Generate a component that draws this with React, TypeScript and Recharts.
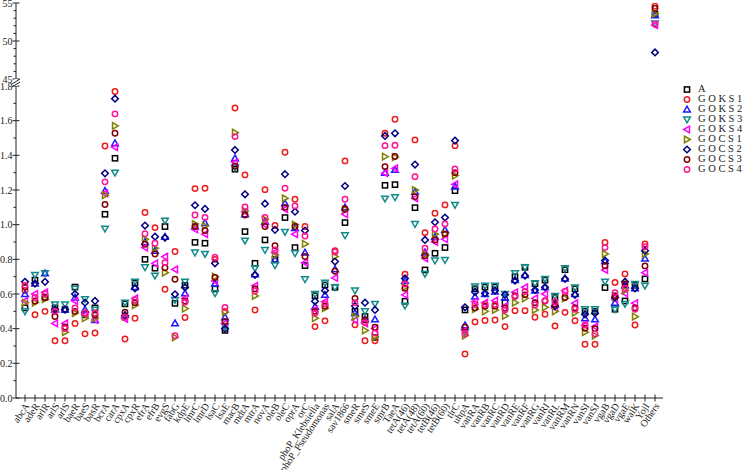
import React from 'react';
import { ScatterChart, Scatter, XAxis, YAxis, Legend } from 'recharts';

const categories = [
  'abcA', 'adeR', 'arlR', 'arlS', 'arlS', 'baeR', 'baeS', 'basR', 'bcrA', 'carA',
  'cpxA', 'cpxR', 'efrA', 'efrB', 'evgS', 'fabG', 'kdpE', 'lmrC', 'lmrD', 'lsaC',
  'lsaE', 'macB', 'mdtA', 'mtrA', 'novA', 'oleB', 'oleC', 'oprA', 'orC', 'phoP_Klebsiella',
  'phoP_Pseudomonas', 'salA', 'sav1866', 'smeR', 'smeS', 'smeE', 'smrB', 'TaeA', 'tetA(46)', 'tetA(48)',
  'tetA(60)', 'tetB(46)', 'tetB(60)', 'tlrC', 'uhpA', 'vanRA', 'vanRB', 'vanRC', 'vanRD', 'vanRE',
  'vanRF', 'vanRG', 'vanRI', 'vanRL', 'vanRM', 'vanRN', 'vanSI', 'vanSJ', 'vgaB', 'vgaD',
  'vgaE', 'walK', 'YojI', 'Others',
];

const valuesA = [
  0.52, 0.68, 0.58, 0.52, 0.51, 0.64, 0.48, 0.52, 1.06, 1.383,
  0.543, 0.662, 0.80, 0.749, 0.989, 0.546, 0.65, 0.898, 0.893, 0.629,
  0.39, 1.32, 0.96, 0.777, 0.912, 0.80, 1.041, 0.868, 0.764, 0.59,
  0.652, 0.639, 1.012, 0.50, 0.47, 0.35, 1.227, 1.231, 0.558, 1.098,
  0.739, 0.835, 0.868, 1.196, 0.508, 0.63, 0.64, 0.64, 0.55, 0.70,
  0.754, 0.66, 0.68, 0.58, 0.74, 0.63, 0.50, 0.50, 0.637, 0.512,
  0.56, 0.65, 0.687, 53.5,
];
const valuesGOKS1 = [
  0.62, 0.48, 0.50, 0.33, 0.33, 0.43, 0.37, 0.375, 1.454, 1.768,
  0.34, 0.46, 1.07, 0.983, 0.627, 0.845, 0.464, 1.208, 1.21, 0.80,
  0.50, 1.673, 1.287, 0.508, 1.202, 0.995, 1.418, 1.147, 0.989, 0.412,
  0.445, 0.85, 1.368, 0.422, 0.33, 0.33, 1.527, 1.608, 0.714, 1.489,
  0.954, 1.066, 1.114, 1.456, 0.254, 0.439, 0.447, 0.45, 0.412, 0.504,
  0.504, 0.466, 0.483, 0.416, 0.494, 0.446, 0.31, 0.31, 0.898, 0.666,
  0.716, 0.421, 0.889, 54.6,
];
const valuesGOKS2 = [
  0.60, 0.66, 0.72, 0.51, 0.51, 0.58, 0.51, 0.45, 1.195, 1.47,
  0.48, 0.64, 0.90, 0.85, 0.93, 0.431, 0.604, 0.99, 1.01, 0.66,
  0.466, 1.383, 1.06, 0.714, 1.018, 0.796, 1.123, 0.98, 0.839, 0.527,
  0.595, 0.743, 1.10, 0.49, 0.454, 0.454, 1.30, 1.316, 0.677, 1.19,
  0.84, 0.93, 0.97, 1.22, 0.42, 0.585, 0.60, 0.614, 0.58, 0.68,
  0.71, 0.62, 0.64, 0.54, 0.69, 0.60, 0.46, 0.454, 0.79, 0.55,
  0.65, 0.633, 0.804, 53.4,
];
const valuesGOKS3 = [
  0.50, 0.71, 0.72, 0.54, 0.54, 0.63, 0.57, 0.51, 0.977, 1.30,
  0.55, 0.671, 0.754, 0.706, 1.023, 0.566, 0.671, 0.839, 0.831, 0.604,
  0.412, 1.329, 0.908, 0.749, 0.854, 0.766, 0.958, 0.835, 0.685, 0.60,
  0.665, 0.639, 0.939, 0.62, 0.50, 0.543, 1.15, 1.158, 0.533, 1.004,
  0.716, 0.793, 0.796, 1.114, 0.38, 0.643, 0.648, 0.648, 0.60, 0.72,
  0.754, 0.662, 0.687, 0.589, 0.748, 0.637, 0.512, 0.512, 0.671, 0.512,
  0.543, 0.658, 0.648, 52.3,
];
const valuesGOKS4 = [
  0.56, 0.60, 0.61, 0.43, 0.43, 0.56, 0.48, 0.45, 1.18, 1.447,
  0.456, 0.575, 0.868, 0.777, 0.816, 0.742, 0.575, 0.973, 0.945, 0.675,
  0.43, 1.36, 1.075, 0.647, 1.00, 0.84, 1.089, 0.945, 0.781, 0.51,
  0.556, 0.693, 1.06, 0.45, 0.43, 0.40, 1.297, 1.325, 0.595, 1.152,
  0.806, 0.90, 0.916, 1.233, 0.39, 0.556, 0.55, 0.562, 0.53, 0.61,
  0.639, 0.575, 0.60, 0.518, 0.62, 0.547, 0.42, 0.412, 0.739, 0.57,
  0.604, 0.547, 0.723, 52.1,
];
const valuesGOCS1 = [
  0.55, 0.55, 0.57, 0.50, 0.38, 0.49, 0.46, 0.46, 1.17, 1.57,
  0.47, 0.535, 0.916, 0.864, 0.723, 0.35, 0.516, 1.004, 0.993, 0.70,
  0.495, 1.531, 1.08, 0.589, 1.03, 0.825, 1.152, 1.00, 0.889, 0.46,
  0.518, 0.816, 1.089, 0.47, 0.39, 0.352, 1.393, 1.39, 0.64, 1.20,
  0.825, 0.945, 0.947, 1.283, 0.36, 0.512, 0.50, 0.508, 0.474, 0.55,
  0.575, 0.508, 0.523, 0.50, 0.575, 0.493, 0.38, 0.36, 0.831, 0.581,
  0.62, 0.469, 0.831, 53.6,
];
const valuesGOCS2 = [
  0.67, 0.66, 0.67, 0.51, 0.51, 0.60, 0.55, 0.56, 1.296, 1.727,
  0.475, 0.633, 0.995, 0.931, 0.925, 0.598, 0.638, 1.112, 1.091, 0.777,
  0.40, 1.431, 1.175, 0.71, 1.121, 0.97, 1.291, 1.075, 0.966, 0.558,
  0.62, 0.787, 1.223, 0.531, 0.55, 0.508, 1.512, 1.527, 0.69, 1.347,
  0.912, 1.014, 1.041, 1.485, 0.523, 0.612, 0.604, 0.62, 0.595, 0.677,
  0.706, 0.623, 0.639, 0.531, 0.687, 0.595, 0.483, 0.489, 0.793, 0.58,
  0.671, 0.633, 0.85, 48.5,
];
const valuesGOCS3 = [
  0.64, 0.56, 0.58, 0.47, 0.41, 0.50, 0.49, 0.48, 1.116, 1.527,
  0.495, 0.55, 0.887, 0.831, 0.752, 0.685, 0.56, 0.989, 0.966, 0.695,
  0.441, 1.339, 1.056, 0.63, 0.989, 0.879, 1.10, 0.989, 0.816, 0.50,
  0.53, 0.731, 1.09, 0.575, 0.45, 0.408, 1.335, 1.393, 0.633, 1.162,
  0.82, 0.912, 0.947, 1.30, 0.408, 0.52, 0.53, 0.53, 0.518, 0.59,
  0.595, 0.55, 0.56, 0.54, 0.58, 0.52, 0.402, 0.40, 0.762, 0.59,
  0.658, 0.52, 0.762, 54.3,
];
const valuesGOCS4 = [
  0.65, 0.58, 0.60, 0.50, 0.40, 0.52, 0.49, 0.49, 1.247, 1.639,
  0.466, 0.566, 0.948, 0.893, 0.781, 0.36, 0.553, 1.056, 1.041, 0.812,
  0.522, 1.508, 1.102, 0.618, 1.041, 0.854, 1.21, 1.108, 0.935, 0.489,
  0.543, 0.843, 1.147, 0.55, 0.435, 0.375, 1.456, 1.458, 0.658, 1.277,
  0.864, 0.975, 1.004, 1.321, 0.37, 0.541, 0.54, 0.54, 0.508, 0.585,
  0.614, 0.537, 0.562, 0.556, 0.614, 0.512, 0.421, 0.37, 0.868, 0.608,
  0.633, 0.512, 0.873, 52.2,
];

const lowerTicks = [0, 0.1, 0.2, 0.3, 0.4, 0.5, 0.6, 0.7, 0.8, 0.9, 1.0, 1.1, 1.2, 1.3, 1.4, 1.5, 1.6, 1.7, 1.8];
const lowerLabels = ['0.0', '', '0.2', '', '0.4', '', '0.6', '', '0.8', '', '1.0', '', '1.2', '', '1.4', '', '1.6', '', '1.8'];
const upperTicks = [45, 46, 47, 48, 49, 50, 51, 52, 53, 54, 55];
const upperLabels = ['45', '', '', '', '', '50', '', '', '', '', '55'];

const SERIES = [
  { name: 'A', values: valuesA, color: '#000000', kind: 'square' },
  { name: 'G O K S 1', values: valuesGOKS1, color: '#ee1c1c', kind: 'circle' },
  { name: 'G O K S 2', values: valuesGOKS2, color: '#1a1aff', kind: 'up' },
  { name: 'G O K S 3', values: valuesGOKS3, color: '#138a8a', kind: 'down' },
  { name: 'G O K S 4', values: valuesGOKS4, color: '#ff00ff', kind: 'left' },
  { name: 'G O C S 1', values: valuesGOCS1, color: '#808000', kind: 'right' },
  { name: 'G O C S 2', values: valuesGOCS2, color: '#000080', kind: 'diamond' },
  { name: 'G O C S 3', values: valuesGOCS3, color: '#800000', kind: 'circle' },
  { name: 'G O C S 4', values: valuesGOCS4, color: '#ff1493', kind: 'circle' },
];

const FONT = '"Liberation Serif", "DejaVu Serif", serif';
const X_DOMAIN: [number, number] = [-0.9, 63.8];
const xTicks = categories.map((_, i) => i);

function Marker({ cx, cy, kind, color }: any) {
  if (cx == null || cy == null || isNaN(cx) || isNaN(cy)) return null;
  const common = { fill: 'none', stroke: color, strokeWidth: 1.5 };
  const r = 3.3;
  switch (kind) {
    case 'square':
      return <rect x={cx - 2.6} y={cy - 2.6} width={5.2} height={5.2} {...common} />;
    case 'circle':
      return <circle cx={cx} cy={cy} r={2.7} {...common} />;
    case 'up':
      return <polygon points={`${cx},${cy - r} ${cx + r},${cy + r * 0.75} ${cx - r},${cy + r * 0.75}`} {...common} />;
    case 'down':
      return <polygon points={`${cx},${cy + r} ${cx + r},${cy - r * 0.75} ${cx - r},${cy - r * 0.75}`} {...common} />;
    case 'left':
      return <polygon points={`${cx - r},${cy} ${cx + r * 0.75},${cy - r} ${cx + r * 0.75},${cy + r}`} {...common} />;
    case 'right':
      return <polygon points={`${cx + r},${cy} ${cx - r * 0.75},${cy - r} ${cx - r * 0.75},${cy + r}`} {...common} />;
    case 'diamond':
      return <polygon points={`${cx},${cy - r} ${cx + r},${cy} ${cx},${cy + r} ${cx - r},${cy}`} {...common} />;
    default:
      return null;
  }
}

function makeYTick(ticks: number[], labels: string[]) {
  return (props: any) => {
    const { x, y, payload } = props;
    const idx = ticks.findIndex((t) => Math.abs(t - payload.value) < 1e-6);
    const label = idx >= 0 ? labels[idx] : '';
    const major = label !== '';
    return (
      <g>
        <line x1={x - (major ? 3.5 : 2.5)} x2={x + (major ? 3.5 : 0)} y1={y} y2={y} stroke="#222" strokeWidth={1} />
        {major && (
          <text x={x - 3.5} y={y} dy="0.35em" textAnchor="end" fontFamily={FONT} fontSize={10} fill="#222">
            {label}
          </text>
        )}
      </g>
    );
  };
}

function XTick(props: any) {
  const { x, y, payload } = props;
  const label = categories[payload.value] ?? '';
  const ty = y + 6;
  return (
    <g>
      <line x1={x} x2={x} y1={y - 3.5} y2={y + 3.5} stroke="#222" strokeWidth={1} />
      <text x={x + 2} y={ty} dy="0.35em" textAnchor="end" transform={`rotate(-56, ${x + 2}, ${ty})`} fontFamily={FONT} fontSize={10} fill="#222">
        {label}
      </text>
    </g>
  );
}

function LegendContent() {
  return (
    <div style={{ fontFamily: FONT, fontSize: 10.5, color: '#222', lineHeight: '10px' }}>
      {SERIES.map((s) => (
        <div key={s.name} style={{ display: 'flex', alignItems: 'center', height: 10, whiteSpace: 'nowrap' }}>
          <svg width={12} height={9} style={{ display: 'block' }}>
            <Marker cx={6} cy={4.5} kind={s.kind} color={s.color} />
          </svg>
          <span style={{ marginLeft: 5 }}>{s.name}</span>
        </div>
      ))}
    </div>
  );
}

const lowerSeries = SERIES.map((s) => ({
  ...s,
  data: categories.map((c, i) => ({ x: i, y: s.values[i], name: c })).filter((d) => d.y <= 1.8),
}));
const upperSeries = SERIES.map((s) => ({
  ...s,
  data: categories.map((c, i) => ({ x: i, y: s.values[i], name: c })).filter((d) => d.y >= 45),
}));

export default function App() {
  const W = 749;
  const H = 470;
  return (
    <div style={{ position: 'absolute', left: 0, top: 0, width: W, height: H, background: '#fff', overflow: 'hidden' }}>
      <div style={{ position: 'absolute', left: 0, top: 0 }}>
        <ScatterChart width={W} height={H} margin={{ top: 86, right: 86, bottom: 0, left: 0 }}>
          <XAxis
            type="number"
            dataKey="x"
            domain={X_DOMAIN}
            ticks={xTicks}
            interval={0}
            allowDataOverflow
            height={72}
            tickSize={0}
            tickMargin={0}
            tickLine={false}
            axisLine={{ stroke: '#222' }}
            tick={<XTick />}
          />
          <YAxis
            type="number"
            dataKey="y"
            domain={[0, 1.8]}
            ticks={lowerTicks}
            interval={0}
            allowDataOverflow
            width={16}
            tickSize={0}
            tickMargin={0}
            tickLine={false}
            axisLine={{ stroke: '#222' }}
            tick={makeYTick(lowerTicks, lowerLabels)}
          />
          {lowerSeries.map((s) => (
            <Scatter
              key={s.name}
              name={s.name}
              data={s.data}
              isAnimationActive={false}
              shape={(p: any) => <Marker cx={p.cx} cy={p.cy} kind={s.kind} color={s.color} />}
            />
          ))}
          <Legend
            layout="vertical"
            align="center"
            verticalAlign="middle"
            content={() => <LegendContent />}
            wrapperStyle={{ left: 681, top: 84, width: 68 }}
          />
        </ScatterChart>
      </div>
      <div style={{ position: 'absolute', left: 0, top: 0 }}>
        <ScatterChart width={W} height={H} margin={{ top: 3, right: 86, bottom: 391, left: 0 }}>
          <XAxis type="number" dataKey="x" domain={X_DOMAIN} ticks={xTicks} allowDataOverflow hide />
          <YAxis
            type="number"
            dataKey="y"
            domain={[45, 55]}
            ticks={upperTicks}
            interval={0}
            allowDataOverflow
            width={16}
            tickSize={0}
            tickMargin={0}
            tickLine={false}
            axisLine={{ stroke: '#222' }}
            tick={makeYTick(upperTicks, upperLabels)}
          />
          {upperSeries.map((s) => (
            <Scatter
              key={s.name}
              name={s.name}
              data={s.data}
              isAnimationActive={false}
              shape={(p: any) => <Marker cx={p.cx} cy={p.cy} kind={s.kind} color={s.color} />}
            />
          ))}
        </ScatterChart>
      </div>
      <svg width={30} height={20} style={{ position: 'absolute', left: 6, top: 74 }}>
        <line x1={10} y1={5} x2={10} y2={12} stroke="#fff" strokeWidth={3} />
        <line x1={6} y1={10} x2={14} y2={5} stroke="#222" strokeWidth={1} />
        <line x1={6} y1={13} x2={14} y2={8} stroke="#222" strokeWidth={1} />
      </svg>
    </div>
  );
}
